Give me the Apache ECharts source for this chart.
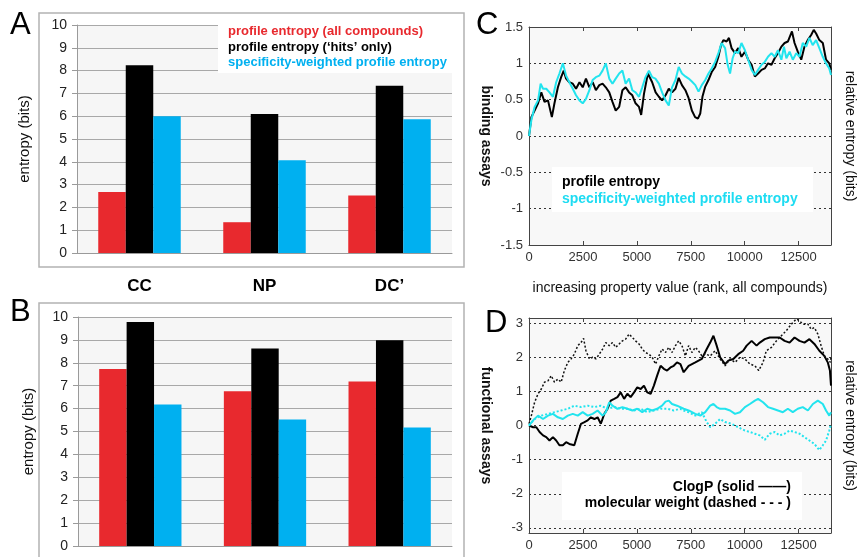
<!DOCTYPE html>
<html>
<head>
<meta charset="utf-8">
<script src="https://cdn.jsdelivr.net/npm/echarts@6.0.0/dist/echarts.min.js"></script>
<style>
    body { margin: 0; background: #fff; }
    #main { width: 858px; height: 557px; }
</style>
</head>
<body>
<div id="main"></div>
<script>
const e = sel => document.querySelector(sel)

// panels A and B: bars
const cats = ['CC', 'NP', 'DC’']
const aAll = [2.68, 1.35, 2.52]
const aHits = [8.23, 6.1, 7.34]
const aWeighted = [6.0, 4.07, 5.87]
const bAll = [7.73, 6.76, 7.18]
const bHits = [9.78, 8.62, 8.99]
const bWeighted = [6.18, 5.52, 5.17]

// panels C and D: [rank, relative entropy]
const cProfile = [
    [0, 0], [110, 0.26], [260, 0.35], [420, 0.45], [570, 0.6], [720, 0.47], [880, 0.49], [1060, 0.26],
    [1180, 0.45], [1340, 0.67], [1490, 0.81], [1610, 0.9], [1720, 0.79], [1870, 0.74], [2030, 0.72],
    [2180, 0.65], [2340, 0.74], [2490, 0.67], [2640, 0.79], [2800, 0.67], [2950, 0.74], [3100, 0.63],
    [3260, 0.7], [3410, 0.72], [3560, 0.67], [3720, 0.6], [3870, 0.47], [4020, 0.35], [4180, 0.4],
    [4330, 0.63], [4480, 0.67], [4640, 0.6], [4790, 0.56], [4940, 0.45], [5100, 0.4], [5200, 0.29],
    [5330, 0.58], [5510, 0.86], [5710, 0.74], [5870, 0.6], [6020, 0.54], [6170, 0.49], [6330, 0.56],
    [6480, 0.65], [6630, 0.6], [6790, 0.65], [6940, 0.8], [7090, 0.7], [7250, 0.63], [7400, 0.52],
    [7550, 0.35], [7700, 0.26], [7830, 0.24], [7940, 0.31], [8040, 0.54], [8170, 0.68], [8320, 0.77],
    [8470, 0.88], [8630, 0.95], [8780, 1.09], [8900, 1.25], [9010, 1.32], [9160, 1.3], [9270, 1.35],
    [9390, 1.21], [9550, 1.14], [9700, 1.21], [9850, 1.09], [10010, 1.16], [10160, 1.05], [10320, 0.98],
    [10470, 0.82], [10620, 0.86], [10780, 0.91], [10930, 0.93], [11080, 1.0], [11240, 0.98], [11390, 1.07],
    [11540, 1.14], [11700, 1.23], [11850, 1.28], [12000, 1.3], [12190, 1.44], [12310, 1.28], [12460, 1.16],
    [12620, 1.05], [12770, 1.23], [12920, 1.32], [13080, 1.39], [13200, 1.46], [13310, 1.41], [13460, 1.32],
    [13620, 1.28], [13770, 1.05], [13920, 1.0], [14000, 0.91],
]
const cWeighted = [
    [0, 0], [110, 0.22], [260, 0.4], [420, 0.49], [540, 0.72], [650, 0.65], [800, 0.65], [950, 0.6],
    [1110, 0.54], [1260, 0.74], [1410, 0.86], [1570, 1.0], [1720, 0.83], [1870, 0.74], [2030, 0.65],
    [2180, 0.56], [2340, 0.49], [2490, 0.45], [2640, 0.51], [2800, 0.63], [2950, 0.77], [3100, 0.81],
    [3260, 0.83], [3410, 0.9], [3560, 1.0], [3720, 0.79], [3870, 0.72], [4020, 0.79], [4180, 0.86],
    [4330, 0.9], [4480, 0.72], [4640, 0.79], [4790, 0.63], [4940, 0.6], [5100, 0.54], [5250, 0.67],
    [5400, 0.81], [5560, 0.9], [5710, 0.81], [5860, 0.79], [6020, 0.72], [6170, 0.6], [6330, 0.49],
    [6480, 0.42], [6630, 0.67], [6790, 0.77], [6940, 0.95], [7090, 0.86], [7250, 0.82], [7400, 0.79],
    [7550, 0.75], [7710, 0.7], [7860, 0.61], [8010, 0.7], [8170, 0.77], [8320, 0.86], [8470, 0.93],
    [8630, 1.02], [8780, 1.14], [8930, 1.28], [9090, 1.21], [9210, 0.98], [9320, 0.86], [9440, 1.07],
    [9550, 1.16], [9700, 1.14], [9850, 1.28], [10010, 1.18], [10160, 1.05], [10320, 0.91], [10470, 0.84],
    [10620, 0.91], [10780, 0.98], [10930, 1.02], [11080, 1.09], [11240, 1.14], [11390, 1.09], [11540, 1.18],
    [11700, 1.05], [11820, 1.23], [11930, 1.07], [12080, 1.16], [12230, 1.05], [12390, 1.14], [12540, 1.09],
    [12690, 1.28], [12850, 1.23], [13000, 1.35], [13150, 1.25], [13310, 1.32], [13460, 1.21], [13620, 1.09],
    [13770, 1.0], [13920, 0.93], [14000, 0.84],
]
const dClogP = [
    [0, 0], [190, -0.05], [340, -0.05], [490, -0.19], [650, -0.29], [800, -0.34], [950, -0.44], [1110, -0.34],
    [1260, -0.44], [1410, -0.58], [1570, -0.58], [1720, -0.49], [1870, -0.54], [2100, -0.58], [2260, -0.24],
    [2410, 0.05], [2570, 0.1], [2720, 0.15], [2870, 0.24], [3030, 0.19], [3180, 0.24], [3330, 0.05],
    [3490, 0.34], [3640, 0.49], [3790, 0.73], [3950, 0.78], [4100, 0.83], [4250, 0.97], [4410, 0.78],
    [4560, 0.93], [4710, 0.83], [4870, 0.97], [5020, 1.12], [5180, 1.07], [5330, 1.17], [5480, 0.97],
    [5640, 0.93], [5790, 1.17], [5940, 1.46], [6100, 1.75], [6250, 1.66], [6400, 1.61], [6560, 1.7],
    [6710, 1.75], [6860, 1.85], [7020, 1.8], [7170, 1.56], [7400, 1.75], [7710, 1.85], [8010, 1.95],
    [8240, 2.24], [8400, 2.43], [8550, 2.63], [8700, 2.34], [8860, 2.0], [9090, 1.8], [9240, 1.9],
    [9470, 1.95], [9700, 2.09], [9930, 2.19], [10090, 2.34], [10320, 2.48], [10550, 2.34], [10700, 2.43],
    [10930, 2.53], [11160, 2.58], [11390, 2.58], [11620, 2.58], [11850, 2.48], [12080, 2.43], [12310, 2.58],
    [12540, 2.48], [12770, 2.43], [13000, 2.53], [13230, 2.39], [13460, 2.19], [13690, 2.04], [13850, 1.85],
    [13950, 1.61], [14000, 1.17],
]
const dWeight = [
    [0, 0.05], [110, 0.29], [260, 0.68], [420, 0.93], [570, 1.07], [720, 1.27], [880, 1.31], [1030, 1.46],
    [1180, 1.27], [1340, 1.36], [1490, 1.27], [1640, 1.61], [1800, 1.85], [1950, 1.95], [2100, 2.09],
    [2260, 2.34], [2410, 2.43], [2530, 2.55], [2640, 2.19], [2800, 1.95], [2950, 2.0], [3100, 1.95],
    [3260, 2.09], [3410, 2.24], [3560, 2.43], [3720, 2.34], [3870, 2.43], [4020, 2.29], [4180, 2.39],
    [4330, 2.48], [4480, 2.53], [4640, 2.68], [4790, 2.58], [4940, 2.48], [5100, 2.39], [5250, 2.24],
    [5400, 2.14], [5560, 2.09], [5710, 2.0], [5870, 1.8], [6020, 2.04], [6170, 2.24], [6330, 2.14],
    [6480, 2.29], [6630, 2.14], [6790, 2.34], [6940, 2.48], [7090, 2.34], [7250, 2.04], [7400, 2.34],
    [7550, 2.14], [7710, 2.29], [7860, 2.19], [8010, 2.04], [8170, 2.1], [8400, 2.04], [8630, 2.19],
    [8860, 1.95], [9090, 1.75], [9320, 1.95], [9550, 1.85], [9780, 2.0], [10010, 1.95], [10240, 1.8],
    [10470, 1.75], [10650, 1.61], [10850, 1.85], [11000, 2.19], [11240, 2.29], [11470, 2.48], [11700, 2.63],
    [11930, 2.78], [12160, 2.97], [12390, 3.12], [12540, 3.07], [12690, 2.97], [12930, 2.97], [13080, 2.82],
    [13230, 2.87], [13390, 2.68], [13540, 2.34], [13690, 2.04], [13850, 1.95], [13970, 1.85], [14000, 2.0],
]
const dClogPWeighted = [
    [0, 0], [190, 0.15], [420, 0.29], [650, 0.19], [880, 0.29], [1110, 0.34], [1340, 0.24], [1570, 0.19],
    [1800, 0.29], [2030, 0.34], [2260, 0.29], [2490, 0.39], [2720, 0.29], [2950, 0.34], [3180, 0.44],
    [3410, 0.29], [3560, 0.39], [3720, 0.68], [3870, 0.58], [4100, 0.49], [4330, 0.54], [4560, 0.49],
    [4790, 0.44], [5020, 0.49], [5250, 0.39], [5480, 0.49], [5710, 0.44], [5940, 0.49], [6170, 0.58],
    [6330, 0.7], [6480, 0.73], [6630, 0.63], [6860, 0.58], [6940, 0.58], [7170, 0.49], [7400, 0.44],
    [7710, 0.34], [7940, 0.29], [8170, 0.39], [8400, 0.58], [8550, 0.63], [8700, 0.54], [8860, 0.49],
    [9090, 0.49], [9320, 0.44], [9550, 0.34], [9780, 0.39], [10010, 0.54], [10240, 0.63], [10470, 0.73],
    [10620, 0.78], [10850, 0.68], [11080, 0.54], [11310, 0.49], [11540, 0.44], [11770, 0.39], [12000, 0.49],
    [12230, 0.39], [12460, 0.49], [12690, 0.54], [12930, 0.44], [13160, 0.63], [13390, 0.73], [13620, 0.63],
    [13770, 0.44], [13920, 0.29], [14000, 0.39],
]
const dWeightWeighted = [
    [0, 0], [260, 0.19], [570, 0.29], [880, 0.34], [1180, 0.39], [1490, 0.44], [1800, 0.49], [2100, 0.58],
    [2410, 0.54], [2720, 0.58], [3030, 0.54], [3330, 0.58], [3640, 0.49], [3950, 0.54], [4250, 0.49],
    [4560, 0.49], [4870, 0.44], [5180, 0.49], [5480, 0.39], [5790, 0.44], [6100, 0.49], [6400, 0.49],
    [6710, 0.44], [7010, 0.49], [7170, 0.44], [7400, 0.39], [7710, 0.29], [8010, 0.39], [8240, 0.1],
    [8400, -0.05], [8630, 0.05], [8860, 0.19], [9090, 0.1], [9390, 0.05], [9700, -0.05], [10010, -0.15],
    [10240, -0.19], [10470, -0.24], [10700, -0.29], [10930, -0.42], [11160, -0.24], [11390, -0.19],
    [11620, -0.29], [11850, -0.24], [12080, -0.15], [12310, -0.19], [12540, -0.24], [12770, -0.34],
    [13000, -0.44], [13230, -0.54], [13460, -0.72], [13620, -0.58], [13770, -0.44], [13920, -0.15], [14000, 0.05],
]

// tick labels
const rankTicks = [0, 2500, 5000, 7500, 10000, 12500]
const cTicks = [-1.5, -1, -0.5, 0, 0.5, 1, 1.5]
const dTicks = [-3, -2, -1, 0, 1, 2, 3]

const font = 'Liberation Sans, Arial, sans-serif'
const red = '#e8292e'
const blue = '#00b0f0'
const cyan = '#22e4ee'

const barAxisY = (grid, gap) => ({
    type: 'value',
    gridIndex: grid,
    min: 0,
    max: 10,
    interval: 1,
    name: 'entropy (bits)',
    nameLocation: 'middle',
    nameGap: gap,
    nameTextStyle: { fontFamily: font, fontSize: 15, color: '#111' },
    axisLine: { show: true, lineStyle: { color: '#9a9a9a' } },
    axisTick: { show: true, length: 5, lineStyle: { color: '#9a9a9a' } },
    axisLabel: { fontFamily: font, fontSize: 14, color: '#222', margin: 10 },
    splitLine: { lineStyle: { color: '#a8a8a8', width: 1 } },
})

const barAxisX = (grid, labels) => ({
    type: 'category',
    gridIndex: grid,
    data: cats,
    axisLine: { lineStyle: { color: '#9a9a9a' } },
    axisTick: { show: false },
    axisLabel: {
        show: labels,
        fontFamily: font, fontSize: 17, fontWeight: 'bold', color: '#000', margin: 25,
    },
})

const rankAxis = (grid, pos, name) => ({
    type: 'value',
    gridIndex: grid,
    position: pos,
    min: 0,
    max: 14000,
    name: name,
    nameLocation: 'middle',
    nameGap: 36,
    nameTextStyle: { fontFamily: font, fontSize: 14, color: '#111' },
    axisLine: { onZero: false, lineStyle: { color: '#444', width: 1 } },
    axisTick: { show: true, inside: true, length: 4, customValues: rankTicks, lineStyle: { color: '#444' } },
    axisLabel: {
        show: pos === 'bottom', customValues: rankTicks,
        formatter: v => String(v),
        fontFamily: font, fontSize: 13, color: '#333', margin: 6,
    },
    splitLine: { show: false },
})

const entropyAxis = (grid, pos, lo, hi, ticks, name, gap, bold) => ({
    type: 'value',
    gridIndex: grid,
    position: pos,
    min: lo,
    max: hi,
    name: name,
    nameLocation: 'middle',
    nameRotate: -90,
    nameGap: gap,
    nameTextStyle: { fontFamily: font, fontSize: 14, fontWeight: bold ? 'bold' : 'normal', color: '#111' },
    axisLine: { onZero: false, lineStyle: { color: '#444', width: 1 } },
    axisTick: { show: false, customValues: ticks },
    axisLabel: {
        show: pos === 'left', customValues: ticks,
        fontFamily: font, fontSize: 13, color: '#333', margin: 6,
    },
    splitLine: {
        show: pos === 'left',
        lineStyle: { color: '#333', type: [2, 3], width: 1 },
    },
})

const bar = (name, xi, data, color) => ({
    name: name,
    type: 'bar',
    xAxisIndex: xi,
    yAxisIndex: xi,
    data: data,
    barGap: '0%',
    barCategoryGap: '34%',
    itemStyle: { color: color },
})

const line = (name, xi, yi, data, color, width, dash) => ({
    name: name,
    type: 'line',
    xAxisIndex: xi,
    yAxisIndex: yi,
    data: data,
    showSymbol: false,
    lineStyle: { color: color, width: width, type: dash ? [2, 2] : 'solid' },
})

const text = (t, x, y, size, color, weight, align) => ({
    type: 'text',
    z: 20,
    style: {
        text: t, x: x, y: y, fill: color,
        font: `${weight} ${size}px ${font}`,
        textAlign: align || 'left',
        textVerticalAlign: 'middle',
    },
})

const rect = (x, y, w, h, stroke, z) => ({
    type: 'rect',
    z: z,
    shape: { x: x, y: y, width: w, height: h },
    style: { fill: '#fff', stroke: stroke, lineWidth: stroke ? 1.5 : 0 },
})

const __main = () => {
    let chart = echarts.init(e('#main'))
    let option = {
        animation: false,
        backgroundColor: '#fff',
        grid: [
            { left: 77, top: 25, width: 375, height: 228, show: true, backgroundColor: '#f6f6f6', borderWidth: 0 },
            { left: 78, top: 317, width: 374, height: 229, show: true, backgroundColor: '#f6f6f6', borderWidth: 0 },
            { left: 529, top: 27, width: 305, height: 218, show: true, backgroundColor: '#f8f8f8', borderWidth: 0 },
            { left: 529, top: 318, width: 305, height: 215, show: true, backgroundColor: '#f8f8f8', borderWidth: 0 },
        ],
        xAxis: [
            barAxisX(0, true),
            barAxisX(1, false),
            rankAxis(2, 'bottom', 'increasing property value (rank, all compounds)'),
            rankAxis(2, 'top', ''),
            rankAxis(3, 'bottom', ''),
            rankAxis(3, 'top', ''),
        ],
        yAxis: [
            barAxisY(0, 45),
            barAxisY(1, 42),
            entropyAxis(2, 'left', -1.5, 1.5, cTicks, 'binding assays', 36, true),
            entropyAxis(2, 'right', -1.5, 1.5, cTicks, 'relative entropy (bits)', 12, false),
            entropyAxis(3, 'left', -3.15, 3.15, dTicks, 'functional assays', 36, true),
            entropyAxis(3, 'right', -3.15, 3.15, dTicks, 'relative entropy (bits)', 12, false),
        ],
        series: [
            bar('profile entropy (all compounds)', 0, aAll, red),
            bar('profile entropy (‘hits’ only)', 0, aHits, '#000'),
            bar('specificity-weighted profile entropy', 0, aWeighted, blue),
            bar('profile entropy (all compounds) B', 1, bAll, red),
            bar('profile entropy (‘hits’ only) B', 1, bHits, '#000'),
            bar('specificity-weighted profile entropy B', 1, bWeighted, blue),
            line('profile entropy', 2, 2, cProfile, '#000', 2, false),
            line('specificity-weighted profile entropy C', 2, 2, cWeighted, cyan, 2, false),
            line('ClogP', 4, 4, dClogP, '#000', 2, false),
            line('molecular weight', 4, 4, dWeight, '#111', 1.5, true),
            line('ClogP weighted', 4, 4, dClogPWeighted, cyan, 2, false),
            line('molecular weight weighted', 4, 4, dWeightWeighted, cyan, 2, true),
        ],
        graphic: [
            rect(39, 13, 425, 254, '#b3b3b3', -5),
            rect(39, 303, 425, 270, '#b3b3b3', -5),
            rect(218, 17, 240, 56, null, 10),
            rect(552, 167, 261, 45, null, 10),
            rect(562, 472, 240, 48, null, 10),
            text('A', 10, 25, 31, '#000', 'normal'),
            text('B', 10, 312, 31, '#000', 'normal'),
            text('C', 476, 25, 31, '#000', 'normal'),
            text('D', 485, 323, 31, '#000', 'normal'),
            text('profile entropy (all compounds)', 228, 31, 13, red, 'bold'),
            text('profile entropy (‘hits’ only)', 228, 47, 13, '#000', 'bold'),
            text('specificity-weighted profile entropy', 228, 62, 13, blue, 'bold'),
            text('profile entropy', 562, 182, 14, '#000', 'bold'),
            text('specificity-weighted profile entropy', 562, 199, 14, '#1edcf2', 'bold'),
            text('ClogP (solid ——)', 791, 487, 14, '#000', 'bold', 'right'),
            text('molecular weight (dashed - - - )', 791, 503, 14, '#000', 'bold', 'right'),
        ],
    }
    chart.setOption(option)
}

__main()
</script>
</body>
</html>
